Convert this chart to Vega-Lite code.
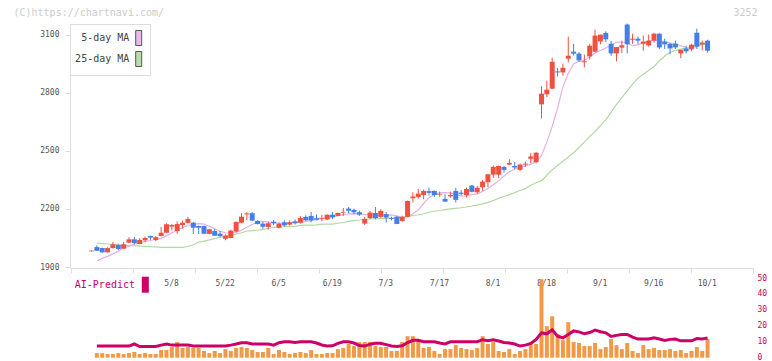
{
"$schema": "https://vega.github.io/schema/vega-lite/v6.json",
"width": 683, "height": 337,
"autosize": {"type": "none"},
"padding": {"left": 70, "top": 24, "right": 19, "bottom": 0},
"background": "white",
"config": {"view": {"stroke": null}, "font": "DejaVu Sans Mono", "axis": {"labelFont": "DejaVu Sans Mono", "titleFont": "DejaVu Sans Mono", "grid": false}, "legend": {"labelFont": "DejaVu Sans Mono"}},
"data": {"values": [
{"i":1,"o":1981,"h":1986,"l":1980,"c":1985},
{"i":2,"o":2003,"h":2012,"l":1983,"c":1984,"v":2.9,"ai":7.3,"m5":1931,"m25":2023},
{"i":3,"o":1998,"h":2000,"l":1974,"c":1976,"v":2.9,"ai":7.3,"m5":1945,"m25":2021},
{"i":4,"o":1976,"h":2002,"l":1974,"c":1998,"v":2.3,"ai":7.3,"m5":1955,"m25":2019},
{"i":5,"o":1998,"h":2029,"l":1996,"c":2017,"v":2.3,"ai":7.3,"m5":1968,"m25":2017},
{"i":6,"o":2014,"h":2020,"l":1988,"c":1993,"v":2.9,"ai":7.3,"m5":1982,"m25":2015},
{"i":7,"o":1995,"h":2029,"l":1993,"c":2017,"v":2.3,"ai":7.3,"m5":1997,"m25":2013},
{"i":8,"o":2026,"h":2054,"l":2024,"c":2043,"v":2.9,"ai":7.3,"m5":2008,"m25":2011},
{"i":9,"o":2043,"h":2055,"l":2017,"c":2024,"v":3.6,"ai":8.6,"m5":2018,"m25":2010},
{"i":10,"o":2019,"h":2048,"l":2017,"c":2040,"v":2.3,"ai":7.0,"m5":2026,"m25":2008},
{"i":11,"o":2038,"h":2057,"l":2028,"c":2050,"v":2.9,"ai":7.0,"m5":2032,"m25":2007},
{"i":12,"o":2060,"h":2062,"l":2040,"c":2052,"v":2.3,"ai":7.0,"m5":2037,"m25":2005},
{"i":13,"o":2040,"h":2060,"l":2034,"c":2054,"v":2.3,"ai":7.0,"m5":2042,"m25":2004},
{"i":14,"o":2060,"h":2107,"l":2058,"c":2077,"v":4.8,"ai":7.9,"m5":2048,"m25":2002},
{"i":15,"o":2077,"h":2126,"l":2075,"c":2121,"v":4.8,"ai":8.6,"m5":2062,"m25":2002},
{"i":16,"o":2109,"h":2122,"l":2088,"c":2117,"v":6.7,"ai":7.9,"m5":2076,"m25":2002},
{"i":17,"o":2086,"h":2136,"l":2072,"c":2122,"v":9.8,"ai":7.9,"m5":2090,"m25":2002},
{"i":18,"o":2117,"h":2140,"l":2098,"c":2129,"v":6.1,"ai":7.9,"m5":2103,"m25":2002},
{"i":19,"o":2128,"h":2159,"l":2126,"c":2148,"v":6.7,"ai":7.9,"m5":2115,"m25":2006},
{"i":20,"o":2129,"h":2133,"l":2071,"c":2103,"v":6.1,"ai":7.3,"m5":2122,"m25":2015},
{"i":21,"o":2112,"h":2114,"l":2071,"c":2103,"v":6.1,"ai":7.3,"m5":2124,"m25":2029},
{"i":22,"o":2112,"h":2114,"l":2070,"c":2072,"v":4.2,"ai":7.3,"m5":2122,"m25":2034},
{"i":23,"o":2071,"h":2097,"l":2069,"c":2095,"v":2.9,"ai":7.3,"m5":2110,"m25":2040},
{"i":24,"o":2086,"h":2095,"l":2060,"c":2062,"v":4.2,"ai":7.3,"m5":2098,"m25":2047},
{"i":25,"o":2072,"h":2086,"l":2053,"c":2060,"v":2.9,"ai":7.3,"m5":2085,"m25":2054},
{"i":26,"o":2046,"h":2069,"l":2038,"c":2062,"v":5.4,"ai":7.3,"m5":2077,"m25":2060},
{"i":27,"o":2050,"h":2093,"l":2048,"c":2088,"v":4.2,"ai":7.9,"m5":2075,"m25":2066},
{"i":28,"o":2083,"h":2135,"l":2081,"c":2133,"v":6.1,"ai":8.6,"m5":2079,"m25":2071},
{"i":29,"o":2129,"h":2178,"l":2127,"c":2160,"v":6.7,"ai":9.4,"m5":2090,"m25":2077},
{"i":30,"o":2172,"h":2183,"l":2143,"c":2177,"v":6.1,"ai":9.4,"m5":2105,"m25":2086},
{"i":31,"o":2178,"h":2184,"l":2138,"c":2140,"v":4.8,"ai":8.6,"m5":2120,"m25":2088},
{"i":32,"o":2138,"h":2142,"l":2120,"c":2122,"v":3.6,"ai":8.6,"m5":2132,"m25":2090},
{"i":33,"o":2124,"h":2134,"l":2098,"c":2108,"v":3.6,"ai":8.6,"m5":2136,"m25":2094},
{"i":34,"o":2107,"h":2134,"l":2093,"c":2126,"v":6.1,"ai":8.6,"m5":2132,"m25":2099},
{"i":35,"o":2134,"h":2143,"l":2117,"c":2126,"v":2.3,"ai":7.9,"m5":2128,"m25":2103},
{"i":36,"o":2103,"h":2131,"l":2100,"c":2124,"v":4.8,"ai":9.4,"m5":2126,"m25":2106},
{"i":37,"o":2131,"h":2141,"l":2110,"c":2115,"v":3.6,"ai":10,"m5":2126,"m25":2109},
{"i":38,"o":2119,"h":2140,"l":2114,"c":2131,"v":2.3,"ai":10,"m5":2128,"m25":2109},
{"i":39,"o":2136,"h":2146,"l":2119,"c":2126,"v":3.0,"ai":9.5,"m5":2130,"m25":2110},
{"i":40,"o":2129,"h":2164,"l":2124,"c":2153,"v":3.6,"ai":10,"m5":2131,"m25":2115},
{"i":41,"o":2159,"h":2167,"l":2138,"c":2141,"v":2.9,"ai":10,"m5":2134,"m25":2116},
{"i":42,"o":2164,"h":2184,"l":2131,"c":2141,"v":4.8,"ai":10,"m5":2140,"m25":2116},
{"i":43,"o":2152,"h":2171,"l":2141,"c":2145,"v":2.3,"ai":9.2,"m5":2145,"m25":2118},
{"i":44,"o":2148,"h":2169,"l":2136,"c":2152,"v":2.3,"ai":8.0,"m5":2150,"m25":2122},
{"i":45,"o":2145,"h":2172,"l":2143,"c":2170,"v":2.9,"ai":7.3,"m5":2155,"m25":2122},
{"i":46,"o":2170,"h":2184,"l":2148,"c":2157,"v":2.9,"ai":7.5,"m5":2158,"m25":2122},
{"i":47,"o":2164,"h":2181,"l":2162,"c":2179,"v":5.4,"ai":9.0,"m5":2165,"m25":2126},
{"i":48,"o":2181,"h":2205,"l":2164,"c":2185,"v":6.1,"ai":10,"m5":2170,"m25":2130},
{"i":49,"o":2202,"h":2210,"l":2177,"c":2191,"v":8.6,"ai":10,"m5":2175,"m25":2136},
{"i":50,"o":2195,"h":2202,"l":2172,"c":2183,"v":7.3,"ai":9.2,"m5":2176,"m25":2140},
{"i":51,"o":2183,"h":2191,"l":2164,"c":2171,"v":9.8,"ai":7.6,"m5":2175,"m25":2143},
{"i":52,"o":2124,"h":2159,"l":2117,"c":2148,"v":9.8,"ai":7.3,"m5":2172,"m25":2147},
{"i":53,"o":2153,"h":2190,"l":2148,"c":2181,"v":9.8,"ai":8.5,"m5":2170,"m25":2148},
{"i":54,"o":2179,"h":2210,"l":2146,"c":2153,"v":7.3,"ai":9.0,"m5":2168,"m25":2150},
{"i":55,"o":2159,"h":2198,"l":2155,"c":2190,"v":6.7,"ai":9.0,"m5":2167,"m25":2150},
{"i":56,"o":2173,"h":2184,"l":2129,"c":2155,"v":6.7,"ai":8.2,"m5":2168,"m25":2151},
{"i":57,"o":2152,"h":2160,"l":2141,"c":2148,"v":4.2,"ai":7.3,"m5":2169,"m25":2153},
{"i":58,"o":2160,"h":2162,"l":2122,"c":2122,"v":4.2,"ai":7.0,"m5":2164,"m25":2155},
{"i":59,"o":2138,"h":2165,"l":2133,"c":2159,"v":9.8,"ai":7.5,"m5":2157,"m25":2157},
{"i":60,"o":2159,"h":2243,"l":2157,"c":2241,"v":13.5,"ai":9.5,"m5":2160,"m25":2160},
{"i":61,"o":2255,"h":2286,"l":2233,"c":2264,"v":13.5,"ai":10.9,"m5":2175,"m25":2166},
{"i":62,"o":2262,"h":2303,"l":2253,"c":2279,"v":10.4,"ai":10.9,"m5":2195,"m25":2170},
{"i":63,"o":2272,"h":2300,"l":2250,"c":2293,"v":6.1,"ai":10,"m5":2228,"m25":2175},
{"i":64,"o":2292,"h":2310,"l":2270,"c":2283,"v":6.7,"ai":10,"m5":2258,"m25":2183},
{"i":65,"o":2293,"h":2295,"l":2262,"c":2272,"v":4.2,"ai":10,"m5":2275,"m25":2188},
{"i":66,"o":2274,"h":2290,"l":2262,"c":2278,"v":2.3,"ai":9.2,"m5":2283,"m25":2192},
{"i":67,"o":2252,"h":2276,"l":2236,"c":2238,"v":5.4,"ai":8.6,"m5":2284,"m25":2196},
{"i":68,"o":2265,"h":2290,"l":2258,"c":2272,"v":5.4,"ai":10,"m5":2282,"m25":2200},
{"i":69,"o":2293,"h":2309,"l":2233,"c":2247,"v":7.9,"ai":10,"m5":2275,"m25":2203},
{"i":70,"o":2284,"h":2298,"l":2270,"c":2278,"v":6.1,"ai":10,"m5":2266,"m25":2206},
{"i":71,"o":2272,"h":2310,"l":2259,"c":2303,"v":5.4,"ai":10,"m5":2268,"m25":2210},
{"i":72,"o":2321,"h":2323,"l":2286,"c":2288,"v":4.8,"ai":10,"m5":2274,"m25":2215},
{"i":73,"o":2286,"h":2319,"l":2278,"c":2309,"v":6.1,"ai":10,"m5":2278,"m25":2220},
{"i":74,"o":2312,"h":2350,"l":2293,"c":2341,"v":13.5,"ai":11.3,"m5":2290,"m25":2226},
{"i":75,"o":2338,"h":2381,"l":2312,"c":2379,"v":8.6,"ai":10.6,"m5":2305,"m25":2234},
{"i":76,"o":2377,"h":2424,"l":2360,"c":2417,"v":9.8,"ai":11.3,"m5":2325,"m25":2243},
{"i":77,"o":2377,"h":2424,"l":2360,"c":2422,"v":4.2,"ai":10.5,"m5":2345,"m25":2255},
{"i":78,"o":2417,"h":2422,"l":2388,"c":2402,"v":3.6,"ai":9.5,"m5":2370,"m25":2264},
{"i":79,"o":2429,"h":2457,"l":2427,"c":2438,"v":5.4,"ai":9.2,"m5":2392,"m25":2274},
{"i":80,"o":2422,"h":2443,"l":2405,"c":2414,"v":2.3,"ai":8.6,"m5":2405,"m25":2284},
{"i":81,"o":2402,"h":2434,"l":2395,"c":2429,"v":4.2,"ai":7.3,"m5":2415,"m25":2295},
{"i":82,"o":2429,"h":2445,"l":2417,"c":2434,"v":5.4,"ai":7.9,"m5":2422,"m25":2305},
{"i":83,"o":2459,"h":2488,"l":2436,"c":2471,"v":8.6,"ai":9.0,"m5":2430,"m25":2322},
{"i":84,"o":2442,"h":2495,"l":2436,"c":2490,"v":8.6,"ai":11.5,"m5":2445,"m25":2335},
{"i":85,"o":2740,"h":2833,"l":2667,"c":2795,"v":49.2,"ai":15.6,"m5":2475,"m25":2346},
{"i":86,"o":2792,"h":2862,"l":2778,"c":2816,"v":19.8,"ai":15.0,"m5":2545,"m25":2374},
{"i":87,"o":2821,"h":2981,"l":2819,"c":2960,"v":26,"ai":17.5,"m5":2625,"m25":2402},
{"i":88,"o":2910,"h":2928,"l":2884,"c":2905,"v":14.8,"ai":13.5,"m5":2720,"m25":2424},
{"i":89,"o":2905,"h":2950,"l":2888,"c":2929,"v":11,"ai":12.5,"m5":2830,"m25":2446},
{"i":90,"o":2976,"h":3090,"l":2957,"c":2991,"v":22.3,"ai":14.5,"m5":2900,"m25":2468},
{"i":91,"o":3012,"h":3053,"l":2991,"c":3002,"v":9.8,"ai":16.8,"m5":2950,"m25":2490},
{"i":92,"o":3002,"h":3010,"l":2960,"c":2967,"v":9.2,"ai":16.2,"m5":2962,"m25":2517},
{"i":93,"o":2957,"h":2997,"l":2931,"c":2962,"v":7.3,"ai":15.0,"m5":2968,"m25":2545},
{"i":94,"o":2988,"h":3053,"l":2972,"c":3043,"v":7.3,"ai":15.8,"m5":2985,"m25":2575},
{"i":95,"o":3012,"h":3126,"l":3010,"c":3095,"v":9.2,"ai":17.3,"m5":3005,"m25":2600},
{"i":96,"o":3065,"h":3100,"l":3050,"c":3100,"v":5.4,"ai":16.3,"m5":3018,"m25":2630},
{"i":97,"o":3109,"h":3117,"l":3062,"c":3076,"v":6.7,"ai":15.6,"m5":3031,"m25":2660},
{"i":98,"o":3053,"h":3067,"l":2991,"c":3003,"v":11.7,"ai":13.3,"m5":3045,"m25":2700},
{"i":99,"o":3003,"h":3036,"l":2962,"c":3036,"v":7.9,"ai":14,"m5":3060,"m25":2740},
{"i":100,"o":3033,"h":3069,"l":3005,"c":3045,"v":5.4,"ai":14.6,"m5":3062,"m25":2775},
{"i":101,"o":3152,"h":3157,"l":3003,"c":3050,"v":9.2,"ai":14.6,"m5":3058,"m25":2810},
{"i":102,"o":3074,"h":3105,"l":3053,"c":3079,"v":4.2,"ai":12.9,"m5":3043,"m25":2845},
{"i":103,"o":3079,"h":3090,"l":3050,"c":3069,"v":2.9,"ai":11.7,"m5":3047,"m25":2875},
{"i":104,"o":3053,"h":3095,"l":3017,"c":3064,"v":7.9,"ai":11.7,"m5":3058,"m25":2895},
{"i":105,"o":3045,"h":3100,"l":3038,"c":3069,"v":5.4,"ai":11.7,"m5":3068,"m25":2915},
{"i":106,"o":3069,"h":3110,"l":3059,"c":3105,"v":6.1,"ai":12.5,"m5":3071,"m25":2935},
{"i":107,"o":3105,"h":3107,"l":3026,"c":3034,"v":4.8,"ai":11.7,"m5":3068,"m25":2965},
{"i":108,"o":3064,"h":3079,"l":3026,"c":3050,"v":4.8,"ai":10.8,"m5":3064,"m25":2990},
{"i":109,"o":3053,"h":3057,"l":2998,"c":3029,"v":5.4,"ai":11.5,"m5":3058,"m25":3008},
{"i":110,"o":3053,"h":3069,"l":3026,"c":3034,"v":4.2,"ai":11.7,"m5":3053,"m25":3018},
{"i":111,"o":3003,"h":3022,"l":2979,"c":3022,"v":4.8,"ai":10.6,"m5":3042,"m25":3025},
{"i":112,"o":3029,"h":3043,"l":3003,"c":3014,"v":2.9,"ai":10.6,"m5":3034,"m25":3031},
{"i":113,"o":3024,"h":3053,"l":3015,"c":3048,"v":4.2,"ai":10.6,"m5":3032,"m25":3038},
{"i":114,"o":3110,"h":3131,"l":3026,"c":3038,"v":6.7,"ai":12,"m5":3038,"m25":3046},
{"i":115,"o":3050,"h":3069,"l":3019,"c":3059,"v":4.2,"ai":11.7,"m5":3050,"m25":3050},
{"i":116,"o":3069,"h":3074,"l":3007,"c":3017,"v":11.7,"ai":12.3,"m5":3053,"m25":3053}
]},
"layer": [
{
"encoding": {"x": {"field": "i", "type": "quantitative", "scale": {"domain": [-3.0134, 124.483], "nice": false, "zero": false, "padding": 0},
  "axis": {"orient": "bottom", "offset": -93, "values": [-2.827, 8.747, 20.321, 31.895, 43.469, 55.043, 66.617, 78.191, 89.765, 101.339, 112.913, 124.48], "labels": false, "tickSize": 5, "tickColor": "#dddddd", "domainColor": "#dddddd", "title": null}}},
"layer": [
{"mark": {"type": "line", "interpolate": "linear"},
 "encoding": {"y": {"field": "m5", "type": "quantitative", "scale": {"domain": [1895, 3155], "range": [244, 0], "nice": false, "zero": false},
   "axis": {"orient": "left", "values": [1900, 2200, 2500, 2800, 3100], "format": "d", "tickSize": 5, "tickColor": "#dddddd", "domainColor": "#dddddd", "labelFontSize": 8, "labelColor": "#555555", "labelPadding": 6, "title": "(C)https://chartnavi.com/", "titleAngle": 0, "titleX": -57, "titleY": -8.5, "titleAlign": "left", "titleBaseline": "alphabetic", "titleFontSize": 10, "titleFontWeight": "normal", "titleColor": "#cccccc"}},
  "strokeWidth": {"value": 1.2},
  "stroke": {"value": "#e4b0e8"},
  "fillOpacity": {"value": 0},
  "fill": {"datum": "5-day MA", "type": "nominal", "scale": {"domain": ["5-day MA", "25-day MA"], "range": ["#e8b8ec", "#b8dcaa"]},
    "legend": {"orient": "none", "legendX": 0, "legendY": 0, "title": null, "padding": 6, "strokeColor": "#dddddd", "fillColor": "white",
      "symbolType": "M-0.4,-1H0.4V1H-0.4Z", "symbolSize": 225, "symbolStrokeWidth": 1, "symbolStrokeColor": "#555555", "symbolOpacity": 1, "symbolOffset": 54.7, "labelOffset": -17.4, "labelAlign": "right",
      "labelFontSize": 10, "labelColor": "#444444", "rowPadding": 1}}}},
{"mark": {"type": "line", "interpolate": "linear"},
 "encoding": {"y": {"field": "m25", "type": "quantitative", "scale": {"domain": [1895, 3155], "range": [244, 0], "nice": false, "zero": false},
   "axis": {"orient": "left", "values": [1900, 2200, 2500, 2800, 3100], "format": "d", "tickSize": 5, "tickColor": "#dddddd", "domainColor": "#dddddd", "labelFontSize": 8, "labelColor": "#555555", "labelPadding": 6, "title": "(C)https://chartnavi.com/", "titleAngle": 0, "titleX": -57, "titleY": -8.5, "titleAlign": "left", "titleBaseline": "alphabetic", "titleFontSize": 10, "titleFontWeight": "normal", "titleColor": "#cccccc"}},
  "strokeWidth": {"value": 1.2},
  "stroke": {"value": "#b2d9a2"},
  "fillOpacity": {"value": 0},
  "fill": {"datum": "25-day MA", "type": "nominal", "scale": {"domain": ["5-day MA", "25-day MA"], "range": ["#e8b8ec", "#b8dcaa"]},
    "legend": {"orient": "none", "legendX": 0, "legendY": 0, "title": null, "padding": 6, "strokeColor": "#dddddd", "fillColor": "white",
      "symbolType": "M-0.4,-1H0.4V1H-0.4Z", "symbolSize": 225, "symbolStrokeWidth": 1, "symbolStrokeColor": "#555555", "symbolOpacity": 1, "symbolOffset": 54.7, "labelOffset": -17.4, "labelAlign": "right",
      "labelFontSize": 10, "labelColor": "#444444", "rowPadding": 1}}}},
{"mark": {"type": "rule", "strokeWidth": 1},
 "encoding": {"y": {"field": "l", "type": "quantitative", "scale": {"domain": [1895, 3155], "range": [244, 0], "nice": false, "zero": false},
   "axis": {"orient": "left", "values": [1900, 2200, 2500, 2800, 3100], "format": "d", "tickSize": 5, "tickColor": "#dddddd", "domainColor": "#dddddd", "labelFontSize": 8, "labelColor": "#555555", "labelPadding": 6, "title": "(C)https://chartnavi.com/", "titleAngle": 0, "titleX": -57, "titleY": -8.5, "titleAlign": "left", "titleBaseline": "alphabetic", "titleFontSize": 10, "titleFontWeight": "normal", "titleColor": "#cccccc"}},
  "y2": {"field": "h"},
  "color": {"condition": {"test": "datum.c >= datum.o", "value": "#f05040"}, "value": "#4080e8"}}},
{"mark": {"type": "bar", "size": 5},
 "encoding": {"y": {"field": "o", "type": "quantitative", "scale": {"domain": [1895, 3155], "range": [244, 0], "nice": false, "zero": false},
   "axis": {"orient": "left", "values": [1900, 2200, 2500, 2800, 3100], "format": "d", "tickSize": 5, "tickColor": "#dddddd", "domainColor": "#dddddd", "labelFontSize": 8, "labelColor": "#555555", "labelPadding": 6, "title": "(C)https://chartnavi.com/", "titleAngle": 0, "titleX": -57, "titleY": -8.5, "titleAlign": "left", "titleBaseline": "alphabetic", "titleFontSize": 10, "titleFontWeight": "normal", "titleColor": "#cccccc"}},
  "y2": {"field": "c"},
  "color": {"condition": {"test": "datum.c >= datum.o", "value": "#f05040"}, "value": "#4080e8"}}}
]
},
{
"encoding": {"x": {"field": "i", "type": "quantitative", "scale": {"domain": [-3.0134, 124.483], "nice": false, "zero": false, "padding": 0},
  "axis": {"orient": "bottom", "offset": -93, "values": [16, 26, 36, 46, 56, 66, 76, 86, 96, 106, 116], "labelExpr": "['5/8','5/22','6/5','6/19','7/3','7/17','8/1','8/18','9/1','9/16','10/1'][round((datum.value-16)/10)]", "ticks": false, "tickSize": 0, "domain": false, "labelPadding": 17.5, "labelBaseline": "alphabetic", "labelFontSize": 8, "labelColor": "#555555", "labelOverlap": false, "labelFlush": false, "labelOffset": -0.8, "title": null}}},
"layer": [
{"mark": {"type": "bar", "size": 4, "color": "#f29945"},
 "encoding": {"y": {"field": "v", "type": "quantitative", "scale": {"domain": [0, 50], "range": [333.7, 254], "nice": false},
   "axis": {"orient": "right", "values": [0, 10, 20, 30, 40, 50], "ticks": false, "tickSize": 0, "domain": false, "labelPadding": 4, "labelFontSize": 8, "labelColor": "#cc0066", "title": "3252", "titleAngle": 0, "titleX": 4, "titleY": -8.5, "titleAlign": "right", "titleBaseline": "alphabetic", "titleFontSize": 10, "titleFontWeight": "normal", "titleColor": "#cccccc"}}}},
{"mark": {"type": "line", "interpolate": "linear"},
 "encoding": {"y": {"field": "ai", "type": "quantitative", "scale": {"domain": [0, 50], "range": [333.7, 254], "nice": false},
   "axis": {"orient": "right", "values": [0, 10, 20, 30, 40, 50], "ticks": false, "tickSize": 0, "domain": false, "labelPadding": 4, "labelFontSize": 8, "labelColor": "#cc0066", "title": "3252", "titleAngle": 0, "titleX": 4, "titleY": -8.5, "titleAlign": "right", "titleBaseline": "alphabetic", "titleFontSize": 10, "titleFontWeight": "normal", "titleColor": "#cccccc"}},
  "strokeWidth": {"value": 3},
  "stroke": {"value": "#cc0066"},
  "fillOpacity": {"value": 0},
  "fill": {"datum": "AI-Predict", "type": "nominal", "scale": {"domain": ["AI-Predict"], "range": ["#cc0066"]},
   "legend": {"orient": "none", "legendX": 0, "legendY": 252.7, "title": null, "padding": 0,
     "symbolType": "M-0.44,-1H0.44V1H-0.44Z", "symbolSize": 256, "symbolStrokeWidth": 0, "symbolStrokeColor": "#cc0066", "symbolOpacity": 1, "symbolOffset": 67.3, "labelOffset": -18.3, "labelAlign": "right",
     "labelFontSize": 10, "labelColor": "#cc0066"}}}}
]
}
],
"resolve": {"scale": {"y": "independent", "color": "independent", "fill": "independent"}, "axis": {"x": "independent", "y": "independent"}}
}
